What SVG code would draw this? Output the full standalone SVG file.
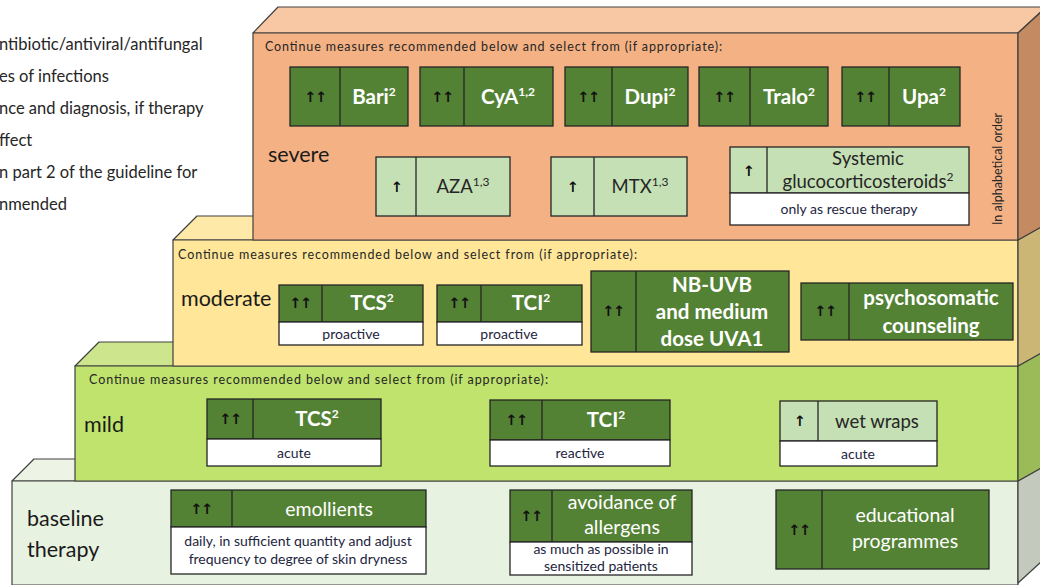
<svg xmlns="http://www.w3.org/2000/svg" width="1040" height="585" viewBox="0 0 1040 585">
<style>
.edge{stroke:#404040;stroke-width:1.2;stroke-linejoin:round}
.g{fill:#548235;stroke:#262626;stroke-width:1.3}
.lg{fill:#c5e0b4;stroke:#262626;stroke-width:1.3}
.w{fill:#ffffff;stroke:#262626;stroke-width:1.3}
.dv{stroke:#262626;stroke-width:1.3}
.arr{font-family:"DejaVu Sans",sans-serif;font-size:14.5px;font-weight:bold;fill:#111;text-anchor:middle;letter-spacing:-1.5px}
.lab{font-family:Lato,"Liberation Sans",sans-serif;font-weight:bold;font-size:20.5px;fill:#ffffff;text-anchor:middle}
.labr{font-family:Lato,"Liberation Sans",sans-serif;font-size:19.5px;fill:#ffffff;text-anchor:middle}
.labd{font-family:Lato,"Liberation Sans",sans-serif;font-size:18.5px;fill:#262626;text-anchor:middle}
.sub{font-family:Lato,"Liberation Sans",sans-serif;font-size:14px;fill:#1e2540;text-anchor:middle}
.cont{font-family:Lato,"Liberation Sans",sans-serif;font-size:12.5px;fill:#262626}
.lvl{font-family:Lato,"Liberation Sans",sans-serif;font-size:21.5px;fill:#1a1a1a}
.note{font-family:Lato,"Liberation Sans",sans-serif;font-size:16.5px;fill:#262626}
.sup{font-size:12px}
</style>

<g id="notes">
<text class="note" x="-1" y="50">ntibiotic/antiviral/antifungal</text>
<text class="note" x="-1" y="82">es of infections</text>
<text class="note" x="-1" y="114">nce and diagnosis, if therapy</text>
<text class="note" x="-1" y="146">ffect</text>
<text class="note" x="-1" y="178">n part 2 of the guideline for</text>
<text class="note" x="-1" y="210">nmended</text>
</g>

<g id="level-baseline">
<polygon class="edge" fill="#edf4e6" points="12,481 34,459 1043,459 1018,481"/>
<rect class="edge" fill="#e8f2e1" x="12" y="481" width="1006" height="104"/>
<polygon class="edge" fill="#c3c9bd" points="1018,481 1041,468 1041,562 1018,583"/>
<text class="lvl" x="27" y="526" font-size="25.5">baseline</text>
<text class="lvl" x="27" y="557" font-size="25.5">therapy</text>
</g>

<g id="level-mild">
<polygon class="edge" fill="#cde68e" points="75,366 99,342 1043,342 1018,366"/>
<rect class="edge" fill="#bfe36d" x="75" y="366" width="943" height="115"/>
<polygon class="edge" fill="#9bbb59" points="1018,366 1041,353 1041,468 1018,481"/>
<text class="cont" x="89" y="384" textLength="459">Continue measures recommended below and select from (if appropriate):</text>
<text class="lvl" x="84" y="432">mild</text>
</g>

<g id="level-moderate">
<polygon class="edge" fill="#fee9a8" points="173,240 197,216 1043,216 1018,240"/>
<rect class="edge" fill="#ffe699" x="173" y="240" width="845" height="126"/>
<polygon class="edge" fill="#ccb676" points="1018,240 1041,227 1041,353 1018,366"/>
<text class="cont" x="178" y="259" textLength="459">Continue measures recommended below and select from (if appropriate):</text>
<text class="lvl" x="181" y="306">moderate</text>
</g>

<g id="level-severe">
<polygon class="edge" fill="#f8c7a4" points="253,33 278,7 1046,7 1018,33"/>
<rect class="edge" fill="#f4b183" x="253" y="33" width="765" height="207"/>
<polygon class="edge" fill="#c48a62" points="1018,33 1042,11 1041,227 1018,240"/>
<text class="cont" x="265" y="51" textLength="457">Continue measures recommended below and select from (if appropriate):</text>
<text class="lvl" x="268" y="162">severe</text>
<text class="cont" font-size="11.5" text-anchor="middle" transform="translate(1002,169) rotate(-90)">In alphabetical order</text>
</g>

<!-- severe options -->
<g id="bari">
<rect class="g" x="290" y="67" width="118" height="59"/><line class="dv" x1="340" y1="67" x2="340" y2="126"/>
<text class="arr" x="315" y="102">↑↑</text>
<text class="lab" x="374" y="104">Bari<tspan class="sup" dy="-8">2</tspan></text>
</g>
<g id="cya">
<rect class="g" x="420" y="67" width="133" height="59"/><line class="dv" x1="464" y1="67" x2="464" y2="126"/>
<text class="arr" x="442" y="102">↑↑</text>
<text class="lab" x="508" y="104">CyA<tspan class="sup" dy="-8">1,2</tspan></text>
</g>
<g id="dupi">
<rect class="g" x="565" y="67" width="123" height="59"/><line class="dv" x1="612" y1="67" x2="612" y2="126"/>
<text class="arr" x="588" y="102">↑↑</text>
<text class="lab" x="650" y="104">Dupi<tspan class="sup" dy="-8">2</tspan></text>
</g>
<g id="tralo">
<rect class="g" x="699" y="67" width="129" height="59"/><line class="dv" x1="750" y1="67" x2="750" y2="126"/>
<text class="arr" x="724" y="102">↑↑</text>
<text class="lab" x="789" y="104">Tralo<tspan class="sup" dy="-8">2</tspan></text>
</g>
<g id="upa">
<rect class="g" x="842" y="67" width="118" height="59"/><line class="dv" x1="889" y1="67" x2="889" y2="126"/>
<text class="arr" x="865" y="102">↑↑</text>
<text class="lab" x="924" y="104">Upa<tspan class="sup" dy="-8">2</tspan></text>
</g>
<g id="aza">
<rect class="lg" x="376" y="157" width="134" height="59"/><line class="dv" x1="416" y1="157" x2="416" y2="216"/>
<text class="arr" x="396" y="192">↑</text>
<text class="labd" x="463" y="193">AZA<tspan class="sup" dy="-7">1,3</tspan></text>
</g>
<g id="mtx">
<rect class="lg" x="551" y="157" width="136" height="59"/><line class="dv" x1="594" y1="157" x2="594" y2="216"/>
<text class="arr" x="572" y="192">↑</text>
<text class="labd" x="640" y="193">MTX<tspan class="sup" dy="-7">1,3</tspan></text>
</g>
<g id="systemic-gcs">
<rect class="lg" x="730" y="147" width="239" height="46"/>
<rect class="w" x="730" y="193" width="239" height="32"/>
<line class="dv" x1="767" y1="147" x2="767" y2="193"/>
<text class="arr" x="748" y="176">↑</text>
<text class="labd" x="868" y="165">Systemic</text>
<text class="labd" x="868" y="188">glucocorticosteroids<tspan class="sup" dy="-7">2</tspan></text>
<text class="sub" x="849" y="214">only as rescue therapy</text>
</g>

<!-- moderate options -->
<g id="tcs-moderate">
<rect class="g" x="279" y="285" width="144" height="37"/>
<rect class="w" x="279" y="322" width="144" height="23"/>
<line class="dv" x1="322" y1="285" x2="322" y2="322"/>
<text class="arr" x="300" y="308">↑↑</text>
<text class="lab" x="372" y="310">TCS<tspan class="sup" dy="-8">2</tspan></text>
<text class="sub" x="351" y="339">proactive</text>
</g>
<g id="tci-moderate">
<rect class="g" x="437" y="285" width="145" height="37"/>
<rect class="w" x="437" y="322" width="145" height="23"/>
<line class="dv" x1="481" y1="285" x2="481" y2="322"/>
<text class="arr" x="459" y="308">↑↑</text>
<text class="lab" x="531" y="310">TCI<tspan class="sup" dy="-8">2</tspan></text>
<text class="sub" x="509" y="339">proactive</text>
</g>
<g id="nbuvb">
<rect class="g" x="591" y="271" width="198" height="81"/>
<line class="dv" x1="636" y1="271" x2="636" y2="352"/>
<text class="arr" x="613" y="316">↑↑</text>
<text class="lab" x="712" y="292">NB-UVB</text>
<text class="lab" x="712" y="319">and medium</text>
<text class="lab" x="712" y="346">dose UVA1</text>
</g>
<g id="psychosomatic">
<rect class="g" x="801" y="283" width="212" height="57"/>
<line class="dv" x1="849" y1="283" x2="849" y2="340"/>
<text class="arr" x="825" y="316">↑↑</text>
<text class="lab" x="931" y="305">psychosomatic</text>
<text class="lab" x="931" y="333">counseling</text>
</g>

<!-- mild options -->
<g id="tcs-mild">
<rect class="g" x="207" y="399" width="174" height="40"/>
<rect class="w" x="207" y="439" width="174" height="27"/>
<line class="dv" x1="253" y1="399" x2="253" y2="439"/>
<text class="arr" x="230" y="424">↑↑</text>
<text class="lab" x="317" y="426">TCS<tspan class="sup" dy="-8">2</tspan></text>
<text class="sub" x="294" y="458">acute</text>
</g>
<g id="tci-mild">
<rect class="g" x="490" y="400" width="180" height="40"/>
<rect class="w" x="490" y="440" width="180" height="26"/>
<line class="dv" x1="542" y1="400" x2="542" y2="440"/>
<text class="arr" x="516" y="425">↑↑</text>
<text class="lab" x="606" y="427">TCI<tspan class="sup" dy="-8">2</tspan></text>
<text class="sub" x="580" y="458">reactive</text>
</g>
<g id="wet-wraps">
<rect class="lg" x="780" y="401" width="157" height="40"/>
<rect class="w" x="780" y="441" width="157" height="25"/>
<line class="dv" x1="818" y1="401" x2="818" y2="441"/>
<text class="arr" x="799" y="426">↑</text>
<text class="labd" x="877" y="428">wet wraps</text>
<text class="sub" x="858" y="459">acute</text>
</g>

<!-- baseline options -->
<g id="emollients">
<rect class="g" x="171" y="490" width="255" height="37"/>
<rect class="w" x="171" y="527" width="255" height="47"/>
<line class="dv" x1="232" y1="490" x2="232" y2="527"/>
<text class="arr" x="201" y="514">↑↑</text>
<text class="labr" x="329" y="516">emollients</text>
<text class="sub" x="298" y="546">daily, in sufficient quantity and adjust</text>
<text class="sub" x="298" y="564">frequency to degree of skin dryness</text>
</g>
<g id="allergens">
<rect class="g" x="510" y="490" width="182" height="52"/>
<rect class="w" x="510" y="542" width="182" height="33"/>
<line class="dv" x1="552" y1="490" x2="552" y2="542"/>
<text class="arr" x="531" y="521">↑↑</text>
<text class="labr" x="622" y="509">avoidance of</text>
<text class="labr" x="622" y="534">allergens</text>
<text class="sub" x="601" y="554">as much as possible in</text>
<text class="sub" x="601" y="571">sensitized patients</text>
</g>
<g id="education">
<rect class="g" x="776" y="490" width="213" height="79"/>
<line class="dv" x1="822" y1="490" x2="822" y2="569"/>
<text class="arr" x="799" y="535">↑↑</text>
<text class="labr" x="905" y="522">educational</text>
<text class="labr" x="905" y="548">programmes</text>
</g>

<g id="connectors"></g>
</svg>
